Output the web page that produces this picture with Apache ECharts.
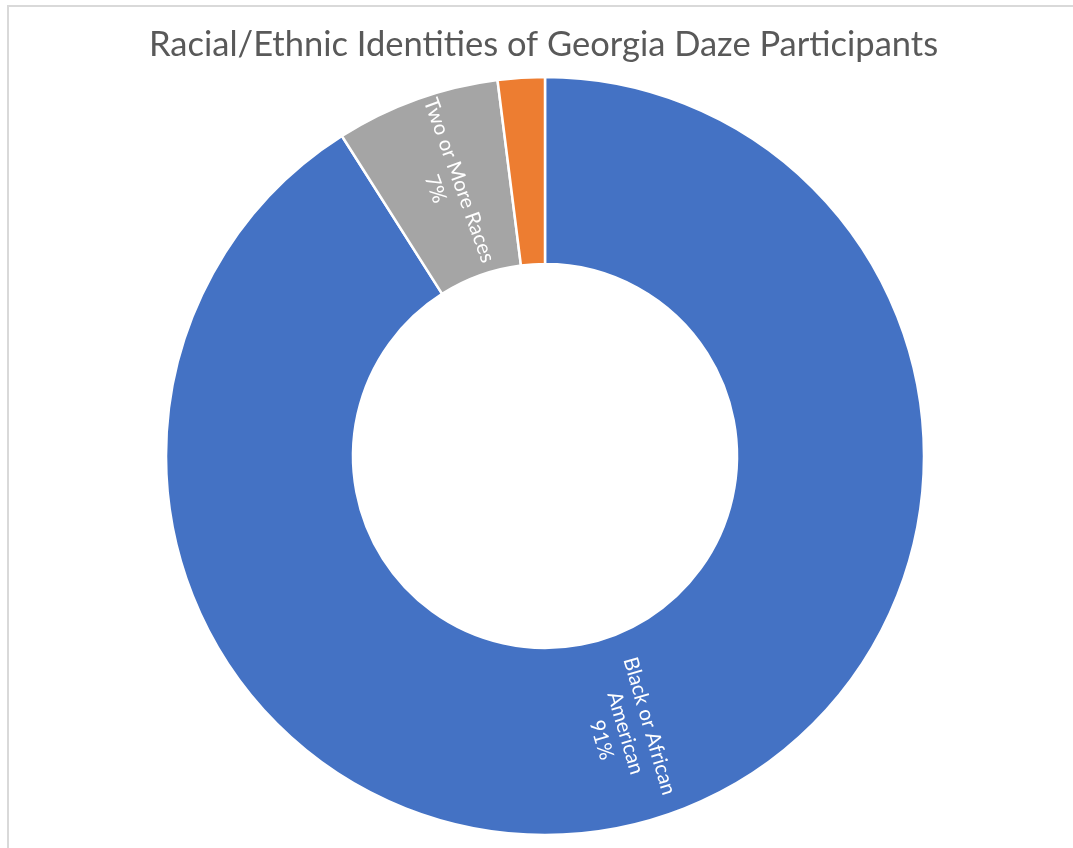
<!DOCTYPE html>
<html>
<head>
<meta charset="utf-8">
<script src="https://cdn.jsdelivr.net/npm/echarts@6/dist/echarts.min.js"></script>
<style>
html,body{margin:0;padding:0;background:#fff;}
#frame{position:absolute;left:0;top:0;width:1073px;height:848px;}
#border{position:absolute;left:7px;top:5px;width:1066px;height:843px;border-top:2px solid #d9d9d9;border-left:2px solid #d9d9d9;box-sizing:border-box;}
#chart{position:absolute;left:0;top:0;width:1073px;height:848px;}
</style>
</head>
<body>
<div id="frame">
<div id="border"></div>
<div id="chart"></div>
</div>
<script>
const titleText = 'Racial/Ethnic Identities of Georgia Daze Participants';
const categories = ['Black or African American', 'Two or More Races', 'Other'];
const values = [91, 7, 2];
const labelTexts = ['Black or African\nAmerican\n91%', 'Two or More Races\n7%', ''];
const colors = ['#4472C4', '#A5A5A5', '#ED7D31'];

const chart = echarts.init(document.getElementById('chart'), null, {renderer: 'canvas'});
chart.setOption({
  animation: false,
  title: {
    text: titleText,
    left: 144,
    top: 22,
    textStyle: {fontFamily: 'Lato', fontSize: 34.5, fontWeight: 'normal', color: '#595959'}
  },
  series: [{
    type: 'pie',
    center: [545, 456],
    radius: [192, 379],
    startAngle: 90,
    clockwise: true,
    avoidLabelOverlap: false,
    itemStyle: {borderColor: '#ffffff', borderWidth: 2.5},
    label: {
      show: true,
      position: 'inside',
      rotate: 'radial',
      color: '#ffffff',
      fontFamily: 'Lato',
      fontSize: 20.5,
      lineHeight: 25,
      align: 'center',
      formatter: function (p) { return labelTexts[p.dataIndex]; }
    },
    labelLine: {show: false},
    emphasis: {disabled: true},
    data: categories.map(function (c, i) {
      return {name: c, value: values[i], itemStyle: {color: colors[i]}, label: {show: labelTexts[i] !== ''}};
    })
  }]
});
</script>
</body>
</html>
